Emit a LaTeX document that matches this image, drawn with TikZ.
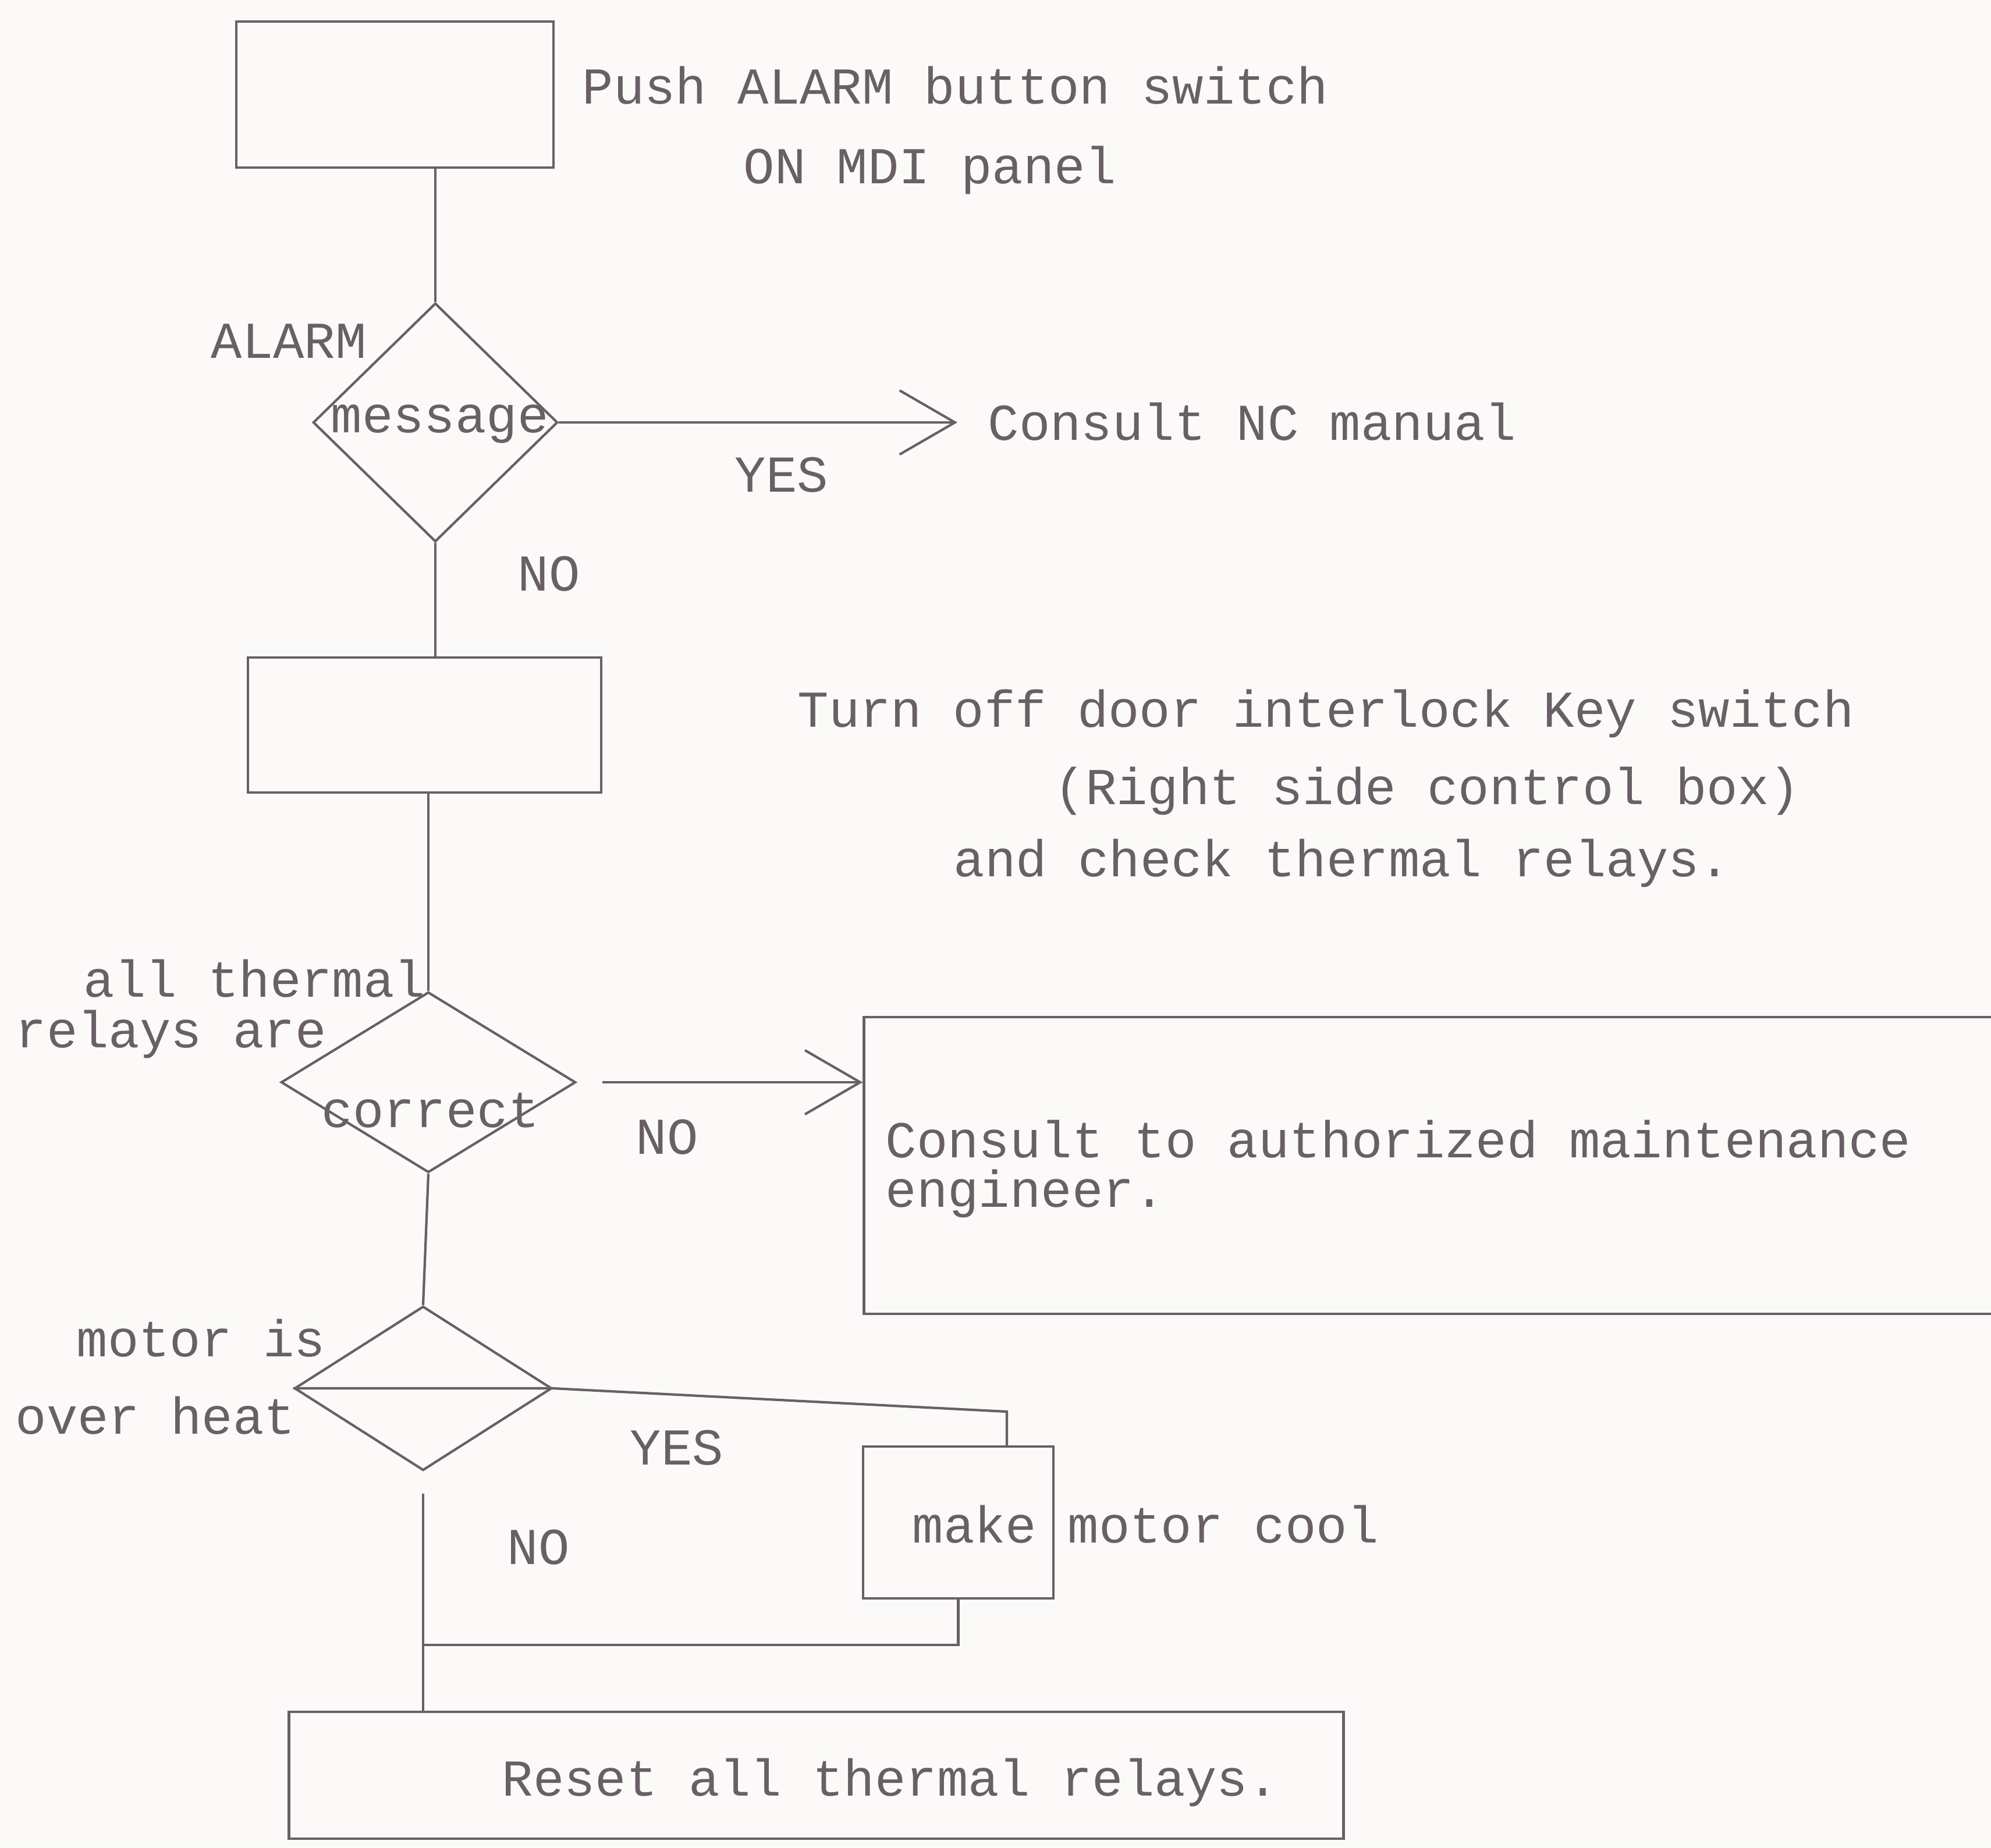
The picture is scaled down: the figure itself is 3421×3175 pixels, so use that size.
\documentclass[tikz,border=0pt]{standalone}
\usepackage{fontspec}
\setmainfont{Liberation Mono}
\usetikzlibrary{shapes.geometric,arrows.meta}
\definecolor{ink}{RGB}{105,95,102}
\definecolor{paper}{RGB}{251,250,248}
\begin{document}
\begin{tikzpicture}[x=0.01cm,y=-0.01cm,
  conn/.style={draw=ink,line width=1.2pt},
  openarrow/.style={conn,-{Straight Barb[length=0.95cm,width=1.1cm]}},
  boxnode/.style={draw=ink,line width=1.2pt,rectangle,inner sep=0pt},
  dia/.style={draw=ink,line width=1.2pt,diamond,inner sep=0pt},
  lbl/.style={text=ink,inner sep=0pt,anchor=base west,font=\fontsize{25.3}{25.3}\selectfont}]
\useasboundingbox (0,0) rectangle (3421,3175);
\clip (0,0) rectangle (3421,3175);
\fill[paper] (0,0) rectangle (3421,3175);

% boxes
\node[boxnode,minimum width=5.45cm,minimum height=2.51cm] (b1) at (678.5,162.5) {};
\node[boxnode,minimum width=6.07cm,minimum height=2.32cm] (b2) at (729.5,1246) {};
\node[boxnode,minimum width=21.15cm,minimum height=5.10cm] (b3) at (2542.5,2003) {};
\node[boxnode,minimum width=3.27cm,minimum height=2.61cm] (mk) at (1646.5,2616.5) {};
\node[boxnode,minimum width=18.11cm,minimum height=2.18cm] (rb) at (1402.5,3051) {};

% decisions
\node[dia,minimum width=4.20cm,minimum height=4.10cm] (d1) at (748,726) {};
\node[dia,minimum width=5.06cm,minimum height=3.10cm] (d2) at (736,1860) {};
\node[dia,minimum width=4.42cm,minimum height=2.82cm] (d3) at (727,2386) {};

% texts
\node[lbl] (t1) at (1000,178) {Push ALARM button switch};
\node[lbl] (t2) at (1277,315) {ON MDI panel};
\node[lbl] (la) at (362,615) {ALARM};
\node[lbl] (lm) at (568,743) {message};
\node[lbl] (nc) at (1697,756) {Consult NC manual};
\node[lbl] (y1) at (1262,845) {YES};
\node[lbl] (n1) at (889,1015) {NO};
\node[lbl] (t3) at (1370,1249) {Turn off door interlock Key switch};
\node[lbl] (t4) at (1811,1382) {(Right side control box)};
\node[lbl] (t5) at (1638,1506) {and check thermal relays.};
\node[lbl] (a1) at (143,1713) {all thermal};
\node[lbl] (a2) at (26,1800) {relays are};
\node[lbl] (a3) at (552,1937) {correct};
\node[lbl] (n2) at (1092,1983) {NO};
\node[lbl] (c1) at (1521,1989) {Consult to authorized maintenance};
\node[lbl] (c2) at (1521,2074) {engineer.};
\node[lbl] (m1) at (131,2331) {motor is};
\node[lbl] (m2) at (26,2464) {over heat};
\node[lbl] (y3) at (1082,2517) {YES};
\node[lbl] (n3) at (871,2688) {NO};
\node[lbl] (mc) at (1567,2651) {make motor cool};
\node[lbl] (rs) at (862,3086) {Reset all thermal relays.};

\coordinate (yk) at (1730,2426);
\coordinate (jn) at (727,2827);

% connectors
\draw[conn] (d1.north |- b1.south) -- (d1.north);
\draw[openarrow,shorten >=0.52cm] (d1.east) -- (d1.east -| nc.west);
\draw[conn] (d1.south) -- (d1.south |- b2.north);
\draw[conn] (d2.north |- b2.south) -- (d2.north);
\draw[openarrow,shorten <=0.44cm] (d2.east) -- (d2.east -| b3.west);
\draw[conn] (d2.south) -- (d3.north);
\draw[conn] (d3.west) -- (d3.east) -- (yk) -- (yk |- mk.north);
\draw[conn] (mk.south) -- (mk.south |- jn) -- (jn);
\draw[conn,shorten <=0.38cm] (d3.south) -- (d3.south |- rb.north);
\end{tikzpicture}
\end{document}
